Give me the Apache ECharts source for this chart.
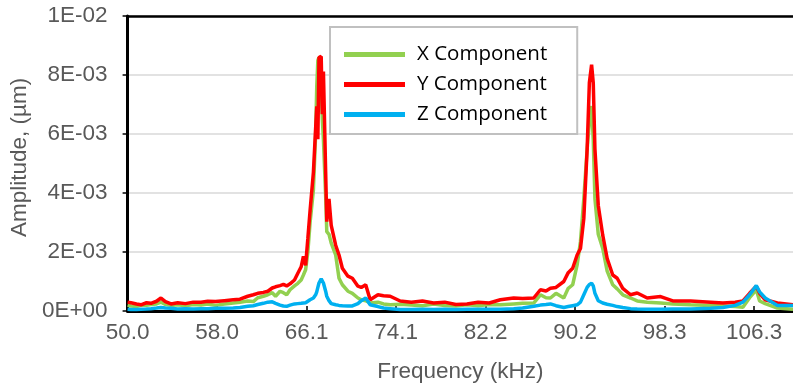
<!DOCTYPE html>
<html>
<head>
<meta charset="utf-8">
<script src="https://cdn.jsdelivr.net/npm/echarts@6/dist/echarts.min.js"></script>
<style>
html,body{margin:0;padding:0;background:#fff;}
#chart{width:793px;height:388px;}
</style>
</head>
<body>
<div id="chart"></div>
<script>
// frequency points (kHz)
var freqs = [50.0,50.3,50.8,51.2,51.7,52.1,52.6,53.0,53.4,53.9,54.5,55.2,55.9,56.6,57.2,57.9,58.7,59.5,60.1,60.8,
  61.3,61.7,62.2,62.6,63.0,63.3,63.7,64.0,64.3,64.6,65.0,65.3,65.6,65.8,66.0,66.2,66.4,66.7,66.9,67.0,
  67.1,67.2,67.4,67.5,67.6,67.8,67.9,68.1,68.3,68.7,69.0,69.3,69.8,70.2,70.7,71.0,71.4,71.8,72.5,73.0,
  73.6,74.5,75.5,76.5,77.5,78.5,79.5,80.5,81.5,82.5,83.5,84.7,85.5,86.5,87.1,87.6,88.0,88.5,89.2,89.6,
  90.0,90.4,90.7,91.0,91.3,91.5,91.7,91.85,92.0,92.3,92.7,93.1,93.6,94.0,94.5,95.2,95.8,96.7,97.9,99.0,
  100.6,102.4,103.5,104.6,105.3,105.9,106.5,106.8,107.3,108.4,109.8];

// amplitudes in units of 1E-03 um
var xComp = [0.20,0.17,0.15,0.20,0.19,0.22,0.24,0.30,0.22,0.19,0.21,0.18,0.22,0.20,0.24,0.19,0.24,0.27,0.30,0.34,
  0.32,0.45,0.50,0.55,0.62,0.50,0.67,0.62,0.55,0.72,0.85,0.94,1.05,1.22,1.40,2.00,3.00,4.10,6.00,7.60,
  8.50,8.60,7.80,6.50,5.80,3.90,2.69,2.60,2.30,1.90,1.11,0.89,0.67,0.60,0.44,0.38,0.35,0.27,0.30,0.24,
  0.21,0.23,0.20,0.18,0.24,0.19,0.17,0.21,0.18,0.22,0.21,0.24,0.26,0.27,0.55,0.45,0.44,0.60,0.44,0.77,
  0.89,1.56,2.36,3.80,5.49,6.40,6.95,5.80,3.80,2.60,2.12,1.35,0.89,0.75,0.55,0.44,0.34,0.30,0.27,0.24,
  0.21,0.19,0.17,0.15,0.13,0.45,0.72,0.34,0.25,0.10,0.06];
var yComp = [0.30,0.28,0.24,0.21,0.28,0.26,0.33,0.44,0.32,0.24,0.28,0.25,0.30,0.30,0.33,0.32,0.35,0.38,0.40,0.50,
  0.55,0.60,0.63,0.67,0.78,0.82,0.86,0.90,0.85,0.92,1.05,1.28,1.50,1.85,1.55,2.46,3.40,4.71,6.20,6.94,
  5.82,8.59,8.63,6.67,8.12,4.71,3.03,3.80,2.90,2.23,1.90,1.45,1.18,1.11,0.84,0.80,0.89,0.38,0.55,0.52,
  0.50,0.34,0.30,0.34,0.27,0.30,0.22,0.24,0.30,0.27,0.38,0.44,0.42,0.44,0.72,0.68,0.77,0.80,1.00,1.30,
  1.45,1.90,2.12,3.13,5.49,7.74,8.35,7.73,5.49,3.58,2.57,1.78,1.22,1.11,0.77,0.55,0.61,0.44,0.49,0.34,
  0.34,0.30,0.27,0.30,0.34,0.60,0.84,0.60,0.38,0.27,0.21];
var zComp = [0.06,0.05,0.05,0.06,0.07,0.08,0.10,0.12,0.10,0.09,0.07,0.08,0.07,0.08,0.08,0.09,0.09,0.10,0.12,0.16,
  0.18,0.22,0.26,0.30,0.31,0.26,0.20,0.17,0.16,0.20,0.24,0.25,0.26,0.27,0.28,0.33,0.38,0.44,0.55,0.65,
  0.80,0.95,1.09,1.05,0.95,0.67,0.50,0.35,0.25,0.21,0.19,0.18,0.17,0.17,0.25,0.35,0.44,0.21,0.15,0.10,
  0.08,0.05,0.05,0.06,0.05,0.06,0.05,0.06,0.06,0.06,0.06,0.08,0.10,0.16,0.20,0.22,0.24,0.18,0.12,0.15,
  0.18,0.21,0.30,0.55,0.80,0.90,0.94,0.85,0.60,0.35,0.27,0.23,0.19,0.15,0.12,0.08,0.07,0.06,0.06,0.07,
  0.07,0.09,0.12,0.19,0.30,0.55,0.86,0.65,0.44,0.19,0.19];

var seriesNames = ['X Component','Y Component','Z Component'];
var seriesColors = ['#92d050','#ff0000','#00b0f0'];
var xTickValues = [50.0,58.045,66.09,74.135,82.18,90.225,98.27,106.315];
var yTickLabels = ['0E+00','2E-03','4E-03','6E-03','8E-03','1E-02'];

function pairs(arr){
  return freqs.map(function(f,i){ return [f, arr[i]]; });
}

var chart = echarts.init(document.getElementById('chart'), null, {renderer:'canvas'});
var axisFont = 'Liberation Sans, Arial, sans-serif';

var allData = [xComp, yComp, zComp];
var series = [];
for (var s=0; s<3; s++){
  series.push({
    name: seriesNames[s],
    type: 'line',
    data: pairs(allData[s]),
    showSymbol: false,
    color: seriesColors[s],
    lineStyle: {width: 3.5, color: seriesColors[s]},
    animation: false
  });
}

chart.setOption({
  animation: false,
  grid: {left: 127, right: 0, top: 16, bottom: 75},
  legend: {
    orient: 'vertical',
    left: 330, top: 27,
    data: seriesNames,
    icon: 'rect',
    itemWidth: 61, itemHeight: 5,
    itemGap: 9,
    backgroundColor: '#fff',
    borderColor: '#c0c0c0', borderWidth: 2, borderRadius: 0,
    padding: [17, 30, 9, 14],
    textStyle: {fontFamily: 'Open Sans', fontSize: 20.5, color: '#000', padding: [0,0,0,7], lineHeight: 20}
  },
  xAxis: [{
    type: 'value', min: 50, max: 109.8,
    name: 'Frequency (kHz)', nameLocation: 'middle', nameGap: 49,
    nameTextStyle: {fontFamily: axisFont, fontSize: 22.5, color: '#595959'},
    axisLine: {lineStyle: {color: '#000', width: 3}},
    axisTick: {show: true, inside: true, length: 5, customValues: xTickValues, lineStyle: {color: '#000', width: 1.5}},
    axisLabel: {customValues: xTickValues, margin: 10, fontFamily: axisFont, fontSize: 22.5, color: '#595959',
      formatter: function(v){ return v.toFixed(1); }},
    splitLine: {show: false}
  }, {
    type: 'value', min: 50, max: 109.8, position: 'top',
    axisLine: {show: true, onZero: false, lineStyle: {color: '#000', width: 2.5}},
    axisTick: {show: false}, axisLabel: {show: false}, splitLine: {show: false}
  }],
  yAxis: {
    type: 'value', min: 0, max: 10, interval: 2,
    name: 'Amplitude, (µm)', nameLocation: 'middle', nameGap: 94,
    nameTextStyle: {fontFamily: axisFont, fontSize: 22.5, color: '#595959', padding: [0, 0, 0, 12]},
    axisLine: {show: true, lineStyle: {color: '#000', width: 3}},
    axisTick: {show: true, length: 5, lineStyle: {color: '#000', width: 1.5}},
    axisLabel: {margin: 20, fontFamily: axisFont, fontSize: 22.5, color: '#595959',
      formatter: function(v){ return yTickLabels[Math.round(v/2)]; }},
    splitLine: {lineStyle: {color: '#d9d9d9', width: 1.5}}
  },
  series: series
});
</script>
</body>
</html>
